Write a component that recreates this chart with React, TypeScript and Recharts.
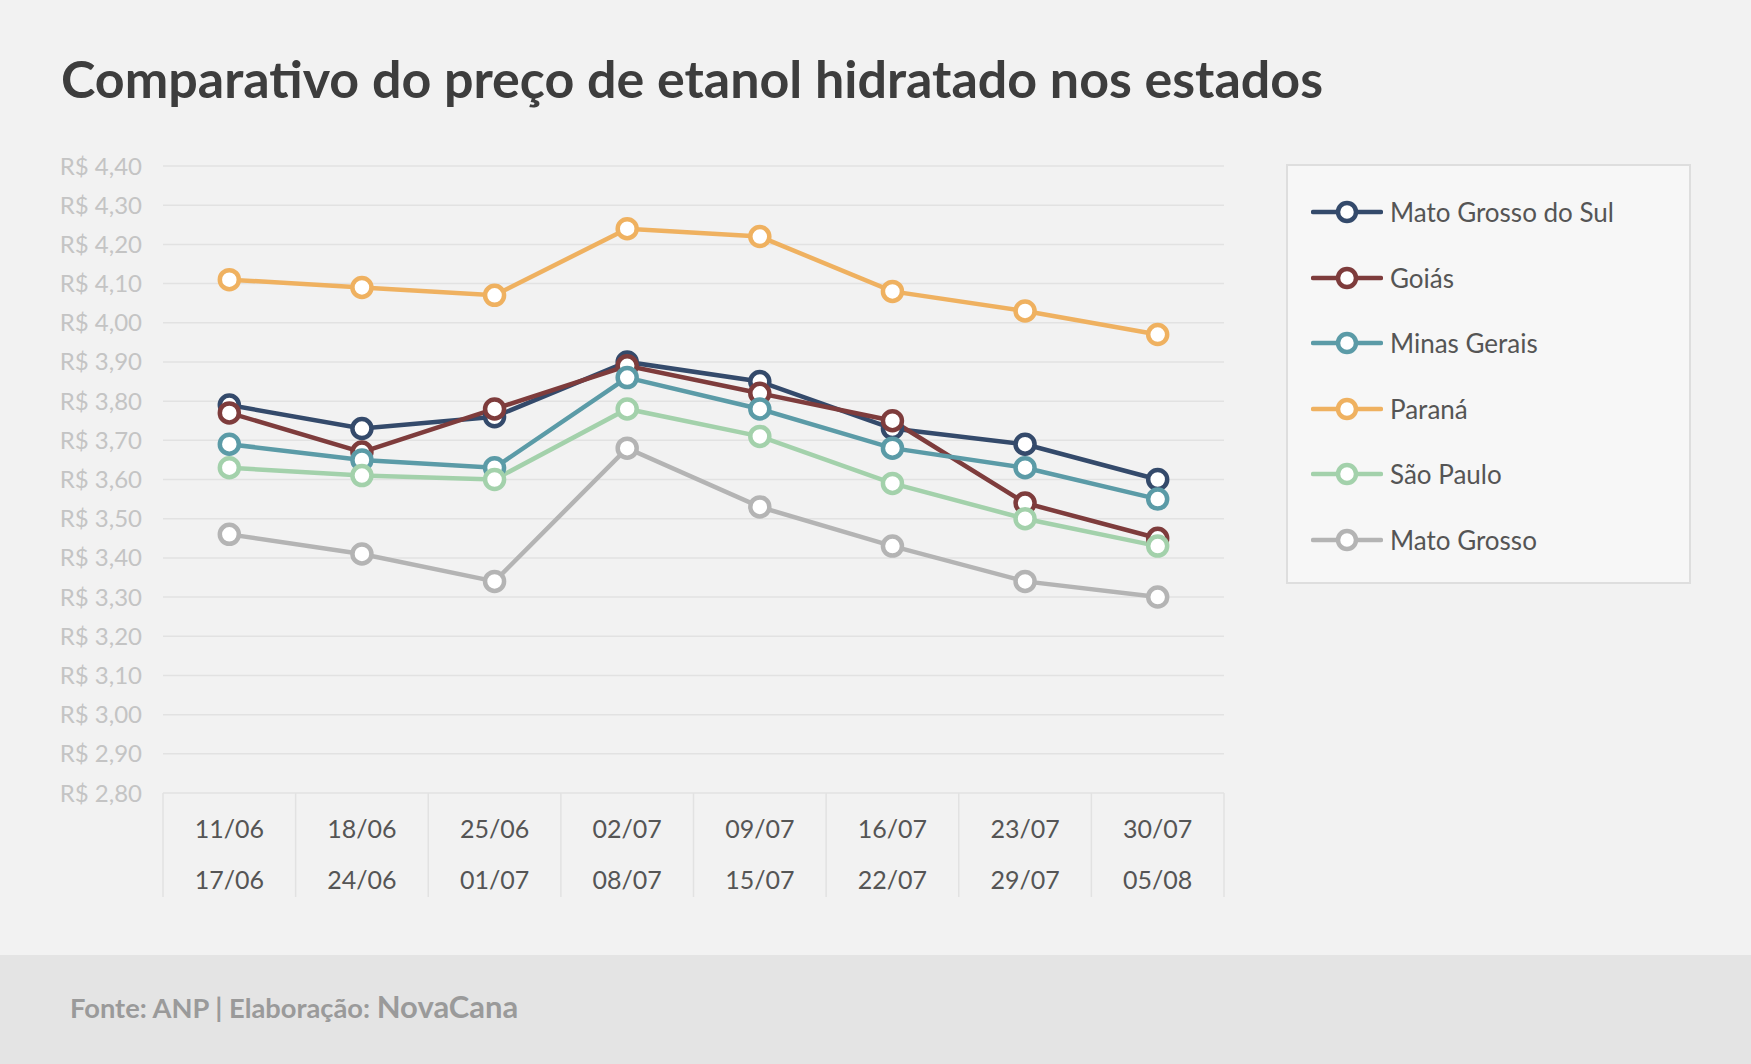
import React from 'react'
import { LineChart, Line, XAxis, YAxis, CartesianGrid, Legend } from 'recharts'

const weekStart = ['11/06', '18/06', '25/06', '02/07', '09/07', '16/07', '23/07', '30/07']
const weekEnd = ['17/06', '24/06', '01/07', '08/07', '15/07', '22/07', '29/07', '05/08']

const matoGrossoDoSul = [3.79, 3.73, 3.76, 3.9, 3.85, 3.73, 3.69, 3.6]
const goias = [3.77, 3.67, 3.78, 3.89, 3.82, 3.75, 3.54, 3.45]
const minasGerais = [3.69, 3.65, 3.63, 3.86, 3.78, 3.68, 3.63, 3.55]
const parana = [4.11, 4.09, 4.07, 4.24, 4.22, 4.08, 4.03, 3.97]
const saoPaulo = [3.63, 3.61, 3.6, 3.78, 3.71, 3.59, 3.5, 3.43]
const matoGrosso = [3.46, 3.41, 3.34, 3.68, 3.53, 3.43, 3.34, 3.3]

const yTicks = [2.8, 2.9, 3.0, 3.1, 3.2, 3.3, 3.4, 3.5, 3.6, 3.7, 3.8, 3.9, 4.0, 4.1, 4.2, 4.3, 4.4]

const series = [
  { key: 'ms', name: 'Mato Grosso do Sul', color: '#344a6b', values: matoGrossoDoSul },
  { key: 'go', name: 'Goiás', color: '#7e3c3c', values: goias },
  { key: 'mg', name: 'Minas Gerais', color: '#5b9ba7', values: minasGerais },
  { key: 'pr', name: 'Paraná', color: '#efb160', values: parana },
  { key: 'sp', name: 'São Paulo', color: '#a3d1ab', values: saoPaulo },
  { key: 'mt', name: 'Mato Grosso', color: '#b4b4b4', values: matoGrosso },
]

const data = weekStart.map((week, i) => {
  const row: Record<string, string | number> = { week, end: weekEnd[i] }
  series.forEach((s) => {
    row[s.key] = s.values[i]
  })
  return row
})

const FONT = 'Lato, "Noto Sans", sans-serif'

function formatPrice(v: number) {
  return `R$ ${v.toFixed(2).replace('.', ',')}`
}

function WeekTick(props: any) {
  const { x, y, payload, index } = props
  const half = payload.offset || 66.3
  const last = index === weekStart.length - 1
  return (
    <g>
      <line x1={x - half} x2={x - half} y1={y} y2={y + 104} stroke="#e2e2e2" strokeWidth={1.5} />
      {last && <line x1={x + half} x2={x + half} y1={y} y2={y + 104} stroke="#e2e2e2" strokeWidth={1.5} />}
      <text x={x} y={y + 35} textAnchor="middle" dominantBaseline="central" fill="#555555" fontSize={25} fontFamily={FONT}>
        {payload.value}
      </text>
      <text x={x} y={y + 86} textAnchor="middle" dominantBaseline="central" fill="#555555" fontSize={25} fontFamily={FONT}>
        {weekEnd[index]}
      </text>
    </g>
  )
}

function LegendBox() {
  return (
    <div
      style={{
        position: 'relative',
        width: 405,
        height: 420,
        boxSizing: 'border-box',
        background: '#f7f7f7',
        border: '2px solid #dedede',
      }}
    >
      {series.map((s, i) => (
        <div
          key={s.key}
          style={{
            position: 'absolute',
            left: 23,
            top: 46 + i * 65.6 - 16,
            height: 32,
            display: 'flex',
            alignItems: 'center',
          }}
        >
          <svg width={72} height={32} style={{ display: 'block' }}>
            <line x1={2} x2={70} y1={16} y2={16} stroke={s.color} strokeWidth={4.5} strokeLinecap="round" />
            <circle cx={36} cy={16} r={9} fill="#fff" stroke={s.color} strokeWidth={4.5} />
          </svg>
          <span style={{ marginLeft: 7, fontSize: 26, color: '#555555', fontFamily: FONT, whiteSpace: 'nowrap' }}>
            {s.name}
          </span>
        </div>
      ))}
    </div>
  )
}

export default function App() {
  return (
    <div
      style={{
        position: 'absolute',
        left: 0,
        top: 0,
        width: 1751,
        height: 1064,
        background: '#f2f2f2',
        fontFamily: FONT,
        overflow: 'hidden',
      }}
    >
      <div style={{ position: 'absolute', left: 0, top: 955, width: 1751, height: 109, background: '#e4e4e4' }} />
      <div style={{ position: 'absolute', left: 0, top: 0 }}>
        <LineChart width={1751} height={1064} data={data} margin={{ top: 166, right: 527, bottom: 167, left: 0 }}>
          <CartesianGrid vertical={false} stroke="#e2e2e2" strokeWidth={1.5} />
          <XAxis
            dataKey="week"
            scale="band"
            height={104}
            axisLine={false}
            tickLine={false}
            tickSize={0}
            tickMargin={0}
            interval={0}
            tick={<WeekTick />}
          />
          <YAxis
            width={163}
            domain={[2.8, 4.4]}
            ticks={yTicks}
            interval={0}
            axisLine={false}
            tickLine={false}
            tickSize={0}
            tickMargin={21}
            tickFormatter={formatPrice}
            tick={{ fill: '#c4c4c4', fontSize: 24, fontFamily: FONT }}
          />
          <Legend
            layout="vertical"
            align="center"
            verticalAlign="middle"
            content={<LegendBox />}
            wrapperStyle={{ left: 1286, top: 164, width: 405, height: 420 }}
          />
          {series.map((s) => (
            <Line
              key={s.key}
              type="linear"
              dataKey={s.key}
              name={s.name}
              stroke={s.color}
              strokeWidth={4.5}
              dot={{ r: 9.5, fill: '#ffffff', stroke: s.color, strokeWidth: 4.5 }}
              activeDot={false}
              isAnimationActive={false}
            />
          ))}
        </LineChart>
      </div>
      <div
        style={{
          position: 'absolute',
          left: 61,
          top: 52,
          fontSize: 52,
          lineHeight: 1,
          fontWeight: 700,
          color: '#3d3d3d',
          whiteSpace: 'nowrap',
        }}
      >
        Comparativo do preço de etanol hidratado nos estados
      </div>
      <div
        style={{
          position: 'absolute',
          left: 70,
          top: 991,
          fontSize: 31,
          lineHeight: 1,
          fontWeight: 700,
          color: '#9a9a9a',
          whiteSpace: 'nowrap',
        }}
      >
        <span style={{ fontSize: 27.3 }}>Fonte: ANP | Elaboração: </span>
        <span>NovaCana</span>
      </div>
    </div>
  )
}
